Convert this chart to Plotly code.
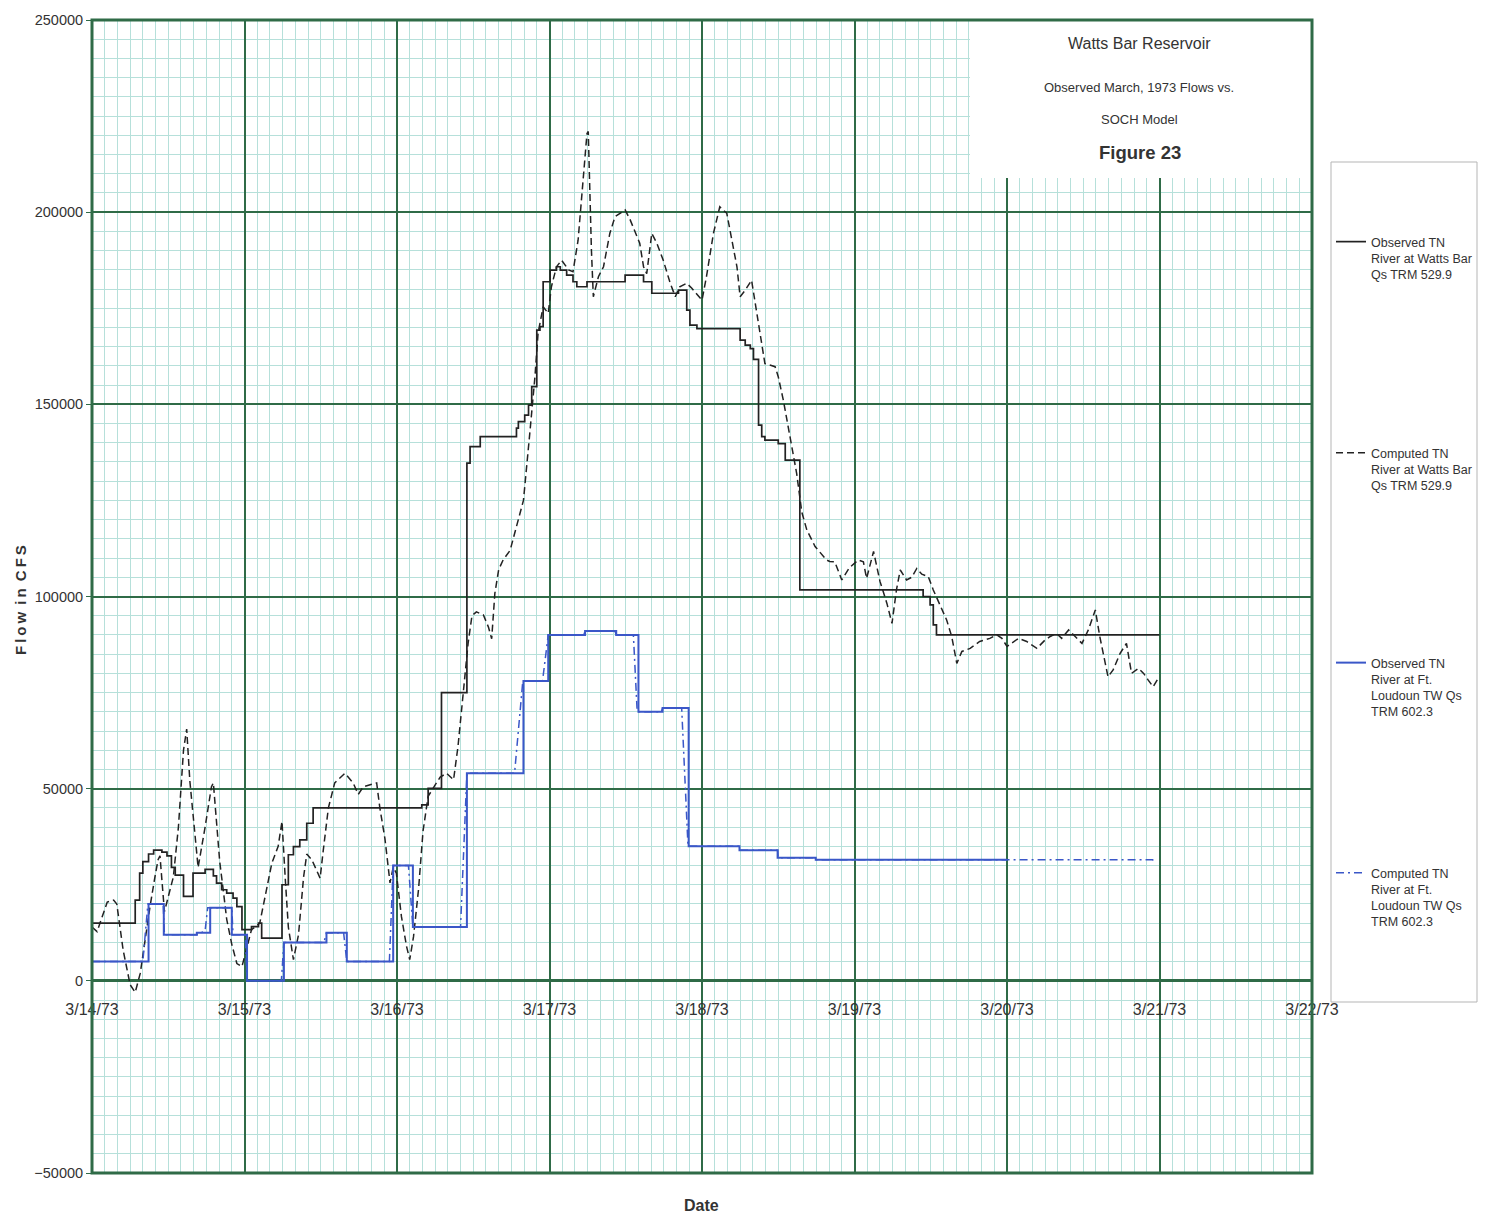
import plotly.graph_objects as go

# ---------------- data (hours after 3/14/73 00:00, flow in cfs) ----------------
day_labels = ["3/14/73", "3/15/73", "3/16/73", "3/17/73", "3/18/73",
              "3/19/73", "3/20/73", "3/21/73", "3/22/73"]
day_hours = [0, 24, 48, 72, 96, 120, 144, 168, 192]

obs_wb_hours = [0, 6.8, 7.5, 8.0, 8.9, 9.7, 11.0, 11.8, 12.5, 13.1, 14.4, 15.9, 17.8, 19.1,
                19.6, 20.4, 21.2, 22.2, 22.8, 23.6, 25.1, 26.2, 26.7, 29.9, 30.9, 31.7,
                32.7, 33.8, 34.8, 51.9, 52.9, 55.0, 59.0, 59.5, 61.1, 66.8, 67.1, 68.1,
                68.7, 69.2, 70.0, 70.5, 71.0, 72.1, 73.1, 73.7, 74.7, 75.7, 76.3, 77.9,
                83.9, 86.8, 88.1, 92.3, 93.6, 94.1, 95.2, 102.0, 102.8, 103.6, 104.1,
                104.9, 105.4, 105.9, 108.0, 109.1, 111.4, 130.8, 131.9, 132.4, 132.9, 168.0]
obs_wb_flow = [15000, 21000, 28000, 31000, 33000, 34000, 33500, 32500, 29500, 27500, 22000,
               28000, 29000, 27300, 25400, 23700, 22800, 21500, 19300, 13300, 14100, 15000,
               11100, 25000, 32800, 34900, 36700, 41000, 45000, 45800, 50100, 75000,
               134700, 139000, 141600, 143800, 145500, 147200, 149800, 154600, 169300,
               170200, 181900, 184900, 185800, 184900, 183600, 181900, 180600, 181900,
               183600, 181900, 178900, 179700, 174500, 170600, 169700, 166700, 165400,
               164500, 161700, 144600, 141600, 140700, 139800, 135500, 101700, 100000,
               97800, 92600, 90000, 90000]

comp_wb_hours = [0, 0.8, 2.4, 3.4, 3.9, 4.9, 6.0, 6.8, 7.6, 8.3, 9.1, 9.9, 10.4, 10.7, 11.4,
                 12.8, 13.6, 14.4, 14.9, 15.4, 16.2, 16.7, 17.8, 18.8, 19.1, 19.6, 20.1,
                 20.7, 21.2, 22.0, 22.8, 23.6, 24.3, 25.1, 26.4, 27.5, 28.3, 29.3, 29.9,
                 30.4, 30.9, 31.7, 32.5, 33.3, 33.8, 34.6, 35.9, 36.4, 37.2, 38.2, 39.8,
                 41.1, 41.9, 42.7, 43.8, 44.8, 45.3, 46.1, 46.9, 47.4, 47.9, 48.7, 49.5,
                 50.0, 50.6, 51.4, 52.1, 52.9, 54.2, 54.8, 55.8, 56.9, 57.6, 58.4, 59.2,
                 59.8, 60.5, 61.6, 62.4, 62.9, 63.4, 64.0, 64.7, 65.8, 66.8, 67.9, 68.9,
                 69.7, 70.2, 71.0, 71.8, 72.3, 73.1, 73.9, 75.0, 75.7, 76.5, 77.3, 77.9,
                 78.1, 78.4, 78.6, 78.9, 79.7, 80.5, 81.5, 82.3, 83.9, 84.7, 85.5, 86.2,
                 86.8, 87.3, 88.1, 88.9, 89.9, 91.0, 91.8, 92.5, 93.6, 94.4, 96.0, 96.7,
                 97.8, 98.8, 99.9, 100.7, 101.5, 102.0, 102.8, 103.8, 104.3, 105.1, 105.9,
                 107.5, 108.0, 108.8, 109.9, 110.9, 111.7, 112.5, 113.8, 115.6, 116.1,
                 116.9, 118.0, 119.2, 120.6, 121.4, 121.9, 123.0, 124.0, 125.1, 125.9,
                 126.6, 127.2, 128.2, 129.0, 129.8, 130.6, 131.6, 132.4, 133.5, 134.5,
                 135.3, 136.1, 136.9, 138.2, 139.7, 141.3, 142.4, 143.2, 144.0, 145.0,
                 145.8, 147.1, 148.7, 150.0, 150.8, 151.8, 152.6, 153.7, 154.7, 155.8,
                 156.8, 157.9, 158.6, 159.4, 159.9, 160.7, 161.8, 162.8, 163.6, 164.7,
                 165.5, 166.2, 167.0, 167.8]
comp_wb_flow = [14000, 12800, 20500, 21000, 20000, 8000, -1000, -3000, 2000, 10500, 19000,
                27000, 31500, 32500, 18000, 27000, 40000, 60000, 65500, 52000, 39000, 29500,
                40000, 50500, 51500, 42000, 31000, 23000, 16000, 9500, 4500, 3700, 8500,
                13300, 15000, 24000, 30600, 35000, 41500, 27000, 14000, 5500, 12000, 27000,
                33000, 31500, 26700, 34000, 45000, 51500, 54000, 51500, 48500, 50500, 51000,
                51500, 45000, 37000, 25500, 29500, 28000, 16700, 9000, 5500, 11500, 24000,
                39000, 48000, 51500, 53000, 54000, 52300, 61000, 75000, 88000, 95000, 96000,
                95200, 92000, 89000, 100800, 107000, 109500, 112000, 118000, 125000, 142500,
                157000, 168500, 175400, 173700, 180600, 185800, 187500, 185000, 184500,
                192700, 207500, 220500, 221000, 200000, 190000, 178000, 183200, 185800,
                194500, 198800, 200600, 198000, 194500, 191900, 185800, 184000, 194500,
                191900, 187500, 181500, 178000, 180600, 181500, 180200, 177100, 183200,
                194500, 201400, 199700, 192700, 185800, 178000, 179700, 182300, 177100,
                168500, 160600, 159800, 157200, 151100, 141000, 132000, 122000, 117300,
                113000, 109500, 109100, 109000, 104300, 107500, 109500, 109000, 104700,
                111700, 104000, 98200, 93000, 101700, 106900, 104300, 105000, 107300,
                105800, 105200, 101700, 97400, 93900, 89600, 82600, 85700, 86500, 88300,
                89100, 90000, 89100, 87000, 88300, 89100, 88300, 86500, 88700, 89600,
                90400, 89100, 91300, 89600, 87800, 91300, 96500, 89600, 83500, 79100,
                80900, 85200, 87800, 80000, 81300, 80000, 78300, 76500, 78700]

obs_fl_hours = [0, 8.9, 11.3, 16.5, 18.6, 22.0, 24.4, 30.2, 36.9, 40.1, 47.4, 50.5, 59.0,
                67.9, 71.8, 77.6, 82.5, 86.0, 89.8, 93.9, 101.9, 107.9, 113.9, 144.0]
obs_fl_flow = [5000, 20000, 12000, 12500, 19000, 12000, 0, 10000, 12500, 5000, 30000, 14000,
               54000, 78000, 90000, 91000, 90000, 70000, 71000, 35000, 34000, 32000, 31500,
               31500]

comp_fl_hours = [0, 8.0, 8.8, 11.2, 11.4, 16.5, 17.8, 18.2, 22.0, 22.2, 24.1, 24.4, 29.8,
                 30.2, 36.5, 36.9, 39.6, 40.1, 46.8, 47.4, 49.8, 50.5, 58.0, 59.0, 66.5,
                 67.8, 70.9, 71.8, 77.4, 77.6, 82.3, 82.5, 85.2, 85.8, 89.6, 89.8, 92.8,
                 93.8, 101.9, 102.0, 107.9, 108.0, 113.9, 114.0, 166.9, 167.4]
comp_fl_flow = [5000, 5000, 20000, 20000, 12000, 12000, 13000, 19000, 19000, 12000, 12000,
                0, 0, 10000, 10000, 12500, 12500, 5000, 5000, 30000, 30000, 14000, 14000,
                54000, 54000, 78000, 78000, 90000, 90000, 91000, 91000, 90000, 90000, 70000,
                70000, 71000, 71000, 35000, 35000, 34000, 34000, 32000, 32000, 31500,
                31500, 31000]

series_names = [
    "Observed TN<br>River at Watts Bar<br>Qs TRM 529.9",
    "Computed TN<br>River at Watts Bar<br>Qs TRM 529.9",
    "Observed TN<br>River at Ft.<br>Loudoun TW Qs<br>TRM 602.3",
    "Computed TN<br>River at Ft.<br>Loudoun TW Qs<br>TRM 602.3",
]

# ---------------- styling ----------------
SANS = "Liberation Sans, Arial, sans-serif"
MAJOR = "#2f6b47"
MINOR = "#b6e0da"
BLACK = "#222222"
BLUE = "#3a57c8"
TXT = "#333333"

fig = go.Figure()
fig.add_trace(go.Scatter(x=obs_wb_hours, y=obs_wb_flow, mode="lines", line_shape="hv",
                         line=dict(color=BLACK, width=1.7), name=series_names[0],
                         legend="legend"))
fig.add_trace(go.Scatter(x=comp_wb_hours, y=comp_wb_flow, mode="lines",
                         line=dict(color=BLACK, width=1.5, dash="7px,4px"),
                         name=series_names[1], legend="legend2"))
fig.add_trace(go.Scatter(x=comp_fl_hours, y=comp_fl_flow, mode="lines",
                         line=dict(color=BLUE, width=1.5, dash="8px,4px,2px,4px"),
                         name=series_names[3], legend="legend4"))
fig.add_trace(go.Scatter(x=obs_fl_hours, y=obs_fl_flow, mode="lines", line_shape="hv",
                         line=dict(color=BLUE, width=2), name=series_names[2],
                         legend="legend3"))

W, H = 1488, 1223

# plot area: x 92..1312 px, y 20..1173 px
def py(px):
    return (1173 - px) / 1153.0

def pxx(px):
    return (px - 92) / 1220.0

legend_common = dict(xref="container", yref="container", xanchor="left", yanchor="top",
                     bgcolor="rgba(0,0,0,0)", borderwidth=0, valign="top",
                     font=dict(family=SANS, size=12.5, color=TXT))
leg_x = 1331 / W
leg_tops = [227, 438, 648, 858]

fig.update_layout(
    width=W, height=H,
    margin=dict(l=92, r=176, t=20, b=50, autoexpand=False),
    paper_bgcolor="white", plot_bgcolor="white",
    showlegend=True,
    legend=dict(x=leg_x, y=1 - leg_tops[0] / H, **legend_common),
    legend2=dict(x=leg_x, y=1 - leg_tops[1] / H, **legend_common),
    legend3=dict(x=leg_x, y=1 - leg_tops[2] / H, **legend_common),
    legend4=dict(x=leg_x, y=1 - leg_tops[3] / H, **legend_common),
    xaxis=dict(range=[0, 192], tickmode="array", tickvals=day_hours, ticktext=day_labels,
               showgrid=True, gridcolor=MAJOR, gridwidth=2, zeroline=False,
               showline=False, anchor="free", position=py(981), ticklabelstandoff=17,
               tickfont=dict(family=SANS, size=16, color=TXT),
               minor=dict(tickmode="linear", tick0=0, dtick=2, showgrid=True,
                          gridcolor=MINOR, gridwidth=1)),
    yaxis=dict(range=[-50000, 250000], dtick=50000, tick0=0, tickformat="d",
               showgrid=True, gridcolor=MAJOR, gridwidth=2,
               zeroline=True, zerolinecolor=MAJOR, zerolinewidth=3,
               showline=False, ticks="outside", ticklen=5, tickcolor=MAJOR,
               tickfont=dict(family=SANS, size=14.5, color=TXT),
               minor=dict(tickmode="linear", tick0=0, dtick=5000, showgrid=True,
                          gridcolor=MINOR, gridwidth=1)),
)

shapes = [
    # title box covering the grid
    dict(type="rect", xref="paper", yref="paper", x0=pxx(970), x1=1.0, y0=py(178), y1=1.0,
         fillcolor="white", line=dict(width=0), layer="above"),
    # legend box
    dict(type="rect", xref="paper", yref="paper", x0=pxx(1331), x1=pxx(1477),
         y0=py(1002), y1=py(162), fillcolor="white", line=dict(color="#b5b5b5", width=1),
         layer="below"),
    # plot frame
    dict(type="rect", xref="paper", yref="paper", x0=0, x1=1, y0=0, y1=1,
         line=dict(color=MAJOR, width=3), layer="above"),
]
fig.update_layout(shapes=shapes)

annotations = [
    dict(text="Watts Bar Reservoir", x=pxx(1139), y=py(43), size=16),
    dict(text="Observed March, 1973 Flows vs.", x=pxx(1139), y=py(87), size=13),
    dict(text="SOCH Model", x=pxx(1139), y=py(119), size=13),
    dict(text="<b>Figure 23</b>", x=pxx(1140), y=py(152), size=18.5),
]
for a in annotations:
    fig.add_annotation(text=a["text"], x=a["x"], y=a["y"], xref="paper", yref="paper",
                       showarrow=False, xanchor="center", yanchor="middle",
                       font=dict(family=SANS, size=a["size"], color=TXT))

fig.add_annotation(text="<b>Date</b>", x=pxx(701), y=py(1205), xref="paper", yref="paper",
                   showarrow=False, xanchor="center", yanchor="middle",
                   font=dict(family=SANS, size=16, color=TXT))
fig.add_annotation(text="<b>F\u2009l\u2009o\u2009w\u2009 i\u2009n\u2009 C\u2009F\u2009S</b>",
                   x=pxx(20), y=py(600), xref="paper", yref="paper", textangle=-90,
                   showarrow=False, xanchor="center", yanchor="middle",
                   font=dict(family=SANS, size=15, color=TXT))

fig.write_html("out.html")
